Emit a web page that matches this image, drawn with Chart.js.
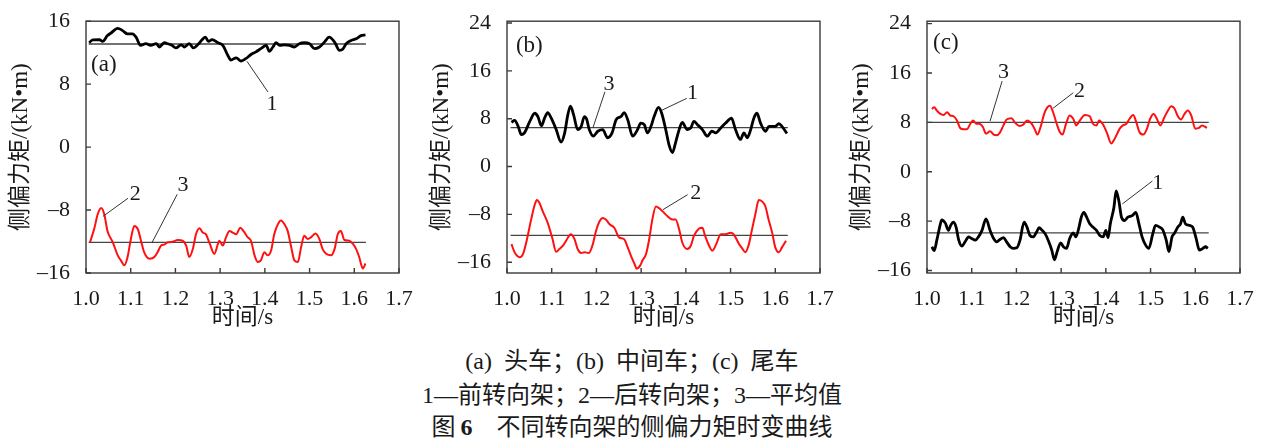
<!DOCTYPE html>
<html>
<head>
<meta charset="utf-8">
<script src="https://cdn.jsdelivr.net/npm/chart.js@4.4.0/dist/chart.umd.min.js"></script>
<style>
body { margin:0; background:#fff; width:1264px; height:445px; overflow:hidden; position:relative;
       font-family:"Liberation Serif","Noto Sans CJK SC",serif; color:#1a1a1a; }
.panel { position:absolute; top:0; width:420px; height:340px; }
.cap { position:absolute; left:0; width:1264px; text-align:center; font-size:24px; line-height:28px; }
</style>
</head>
<body>
<div class="panel" style="left:0"><canvas id="chartA"></canvas></div>
<div class="panel" style="left:421px"><canvas id="chartB"></canvas></div>
<div class="panel" style="left:841px"><canvas id="chartC"></canvas></div>
<div class="cap" style="top:347px">(a)&nbsp; 头车；(b)&nbsp; 中间车；(c)&nbsp; 尾车</div>
<div class="cap" style="top:381px">1—前转向架；2—后转向架；3—平均值</div>
<div class="cap" style="top:413px">图&thinsp;<b>6</b>&emsp;不同转向架的侧偏力矩时变曲线</div>
<script>
/* axis ticks */
const xTicks = [1.0, 1.1, 1.2, 1.3, 1.4, 1.5, 1.6, 1.7];
const yTicksA = [-16, -8, 0, 8, 16];
const yTicksBC = [-16, -8, 0, 8, 16, 24];

/* (a) 头车 - 1 front bogie */
const aFrontT = [1.007,1.015,1.030,1.037,1.048,1.056,1.071,1.082,1.093,1.104,
  1.112,1.122,1.134,1.145,1.157,1.164,1.175,1.183,1.192,1.201,
  1.213,1.220,1.231,1.240,1.254,1.260,1.267,1.274,1.282,1.295,
  1.306,1.317,1.324,1.336,1.347,1.358,1.369,1.380,1.391,1.403,
  1.410,1.418,1.425,1.433,1.444,1.455,1.466,1.477,1.488,1.500,
  1.511,1.522,1.533,1.544,1.556,1.567,1.574,1.582,1.593,1.604,
  1.615,1.625];
const aFrontM = [13.26,13.63,13.67,13.43,14.17,14.5,15.09,14.80,14.38,14.38,
  13.97,12.93,13.14,12.93,13.14,12.72,13.26,13.14,12.93,12.60,
  13.0,12.72,13.14,12.60,13.26,13.67,13.97,13.43,13.67,13.26,
  12.93,11.68,11.06,11.35,10.94,11.27,11.77,12.10,12.51,12.93,
  12.18,12.72,13.26,12.93,13.0,12.93,12.72,13.14,13.26,13.14,
  12.51,12.72,13.34,13.97,13.34,12.30,12.43,13.14,13.55,13.76,
  14.17,14.26];
/* (a) 2 rear bogie */
const aRearT = [1.009,1.019,1.026,1.034,1.041,1.048,1.060,1.071,1.078,1.086,
  1.093,1.101,1.108,1.116,1.123,1.130,1.142,1.153,1.160,1.168,
  1.175,1.183,1.194,1.205,1.216,1.224,1.231,1.239,1.246,1.254,
  1.261,1.268,1.277,1.287,1.295,1.298,1.306,1.313,1.321,1.328,
  1.336,1.345,1.352,1.362,1.369,1.377,1.384,1.391,1.399,1.406,
  1.414,1.421,1.429,1.436,1.444,1.451,1.459,1.466,1.474,1.481,
  1.488,1.496,1.503,1.513,1.522,1.529,1.537,1.548,1.556,1.563,
  1.570,1.578,1.589,1.597,1.604,1.611,1.619,1.625];
const aRearM = [-12.10,-10.24,-8.57,-7.74,-8.57,-10.65,-12.10,-13.76,-14.39,-15.01,
  -13.97,-11.48,-10.03,-10.44,-11.90,-13.35,-14.18,-13.97,-13.35,-12.52,
  -12.39,-12.10,-12.02,-11.81,-11.90,-12.52,-13.97,-12.93,-11.07,-10.32,
  -10.86,-11.07,-12.31,-13.56,-12.31,-11.90,-12.52,-11.48,-10.65,-10.86,
  -11.07,-10.24,-10.65,-11.48,-11.90,-13.76,-14.59,-14.39,-13.35,-13.76,
  -13.14,-11.07,-9.82,-9.32,-9.82,-10.65,-12.73,-14.39,-14.59,-12.73,
  -11.27,-11.69,-11.48,-10.98,-11.69,-12.93,-13.56,-13.76,-12.93,-11.07,
  -10.65,-11.81,-11.90,-12.31,-12.93,-13.97,-15.42,-14.80];

/* (b) 中间车 - 1 front bogie */
const bFrontT = [1.010,1.017,1.025,1.032,1.039,1.051,1.062,1.069,1.077,1.084,
  1.091,1.099,1.110,1.121,1.129,1.136,1.142,1.149,1.158,1.166,
  1.173,1.178,1.184,1.193,1.203,1.214,1.225,1.235,1.244,1.255,
  1.262,1.270,1.281,1.292,1.299,1.307,1.314,1.322,1.329,1.339,
  1.346,1.355,1.363,1.370,1.377,1.385,1.392,1.403,1.411,1.418,
  1.426,1.437,1.448,1.458,1.467,1.478,1.489,1.502,1.511,1.522,
  1.530,1.537,1.545,1.552,1.559,1.567,1.578,1.586,1.600,1.608,
  1.615,1.626];
const bFrontM = [7.38,7.71,6.72,5.35,5.63,7.54,8.91,8.36,6.83,8.09,
  9.02,8.09,6.18,4.10,5.63,8.64,10.11,8.64,6.18,6.72,
  8.36,7.93,6.18,5.08,5.90,6.18,4.81,5.63,7.82,8.36,
  9.02,7.82,5.08,6.18,7.27,7.00,5.63,6.72,8.36,9.89,
  8.91,6.18,3.44,2.35,3.99,6.18,7.38,6.18,6.45,7.54,
  7.00,6.18,5.08,5.90,5.63,6.45,7.27,8.09,6.18,4.53,
  5.63,4.81,6.18,8.09,8.91,7.27,5.90,6.72,6.72,7.16,
  6.72,5.52];
/* (b) 2 rear bogie */
const bRearT = [1.010,1.017,1.028,1.036,1.043,1.054,1.062,1.067,1.073,1.080,
  1.091,1.101,1.110,1.117,1.125,1.132,1.143,1.151,1.158,1.166,
  1.173,1.183,1.192,1.199,1.207,1.214,1.221,1.230,1.240,1.251,
  1.262,1.270,1.277,1.285,1.290,1.298,1.303,1.311,1.318,1.325,
  1.333,1.340,1.348,1.359,1.370,1.377,1.385,1.392,1.403,1.411,
  1.418,1.429,1.437,1.443,1.452,1.459,1.468,1.478,1.489,1.500,
  1.507,1.519,1.527,1.533,1.541,1.548,1.556,1.563,1.571,1.578,
  1.585,1.593,1.600,1.608,1.615,1.624];
const bRearM = [-12.97,-14.34,-15.16,-14.61,-12.70,-8.87,-6.40,-5.58,-6.13,-7.50,
  -9.41,-11.88,-14.23,-13.79,-13.24,-12.42,-11.33,-12.15,-13.79,-14.45,
  -14.34,-14.45,-12.97,-10.78,-9.14,-8.59,-8.87,-9.69,-10.23,-11.88,
  -12.15,-13.52,-14.88,-16.25,-17.07,-16.52,-15.70,-14.61,-12.15,-8.87,
  -6.68,-6.95,-7.50,-8.32,-8.87,-8.87,-10.51,-12.70,-13.79,-13.24,
  -11.60,-10.40,-10.23,-11.60,-13.24,-14.06,-12.97,-11.33,-11.33,-11.05,
  -11.33,-12.97,-13.79,-14.34,-12.97,-10.51,-7.77,-5.58,-5.86,-6.68,
  -8.87,-11.05,-13.52,-14.34,-13.52,-12.42];

/* (c) 尾车 - 1 front bogie */
const cFrontT = [1.011,1.016,1.022,1.030,1.033,1.041,1.048,1.053,1.059,1.065,
  1.071,1.078,1.085,1.093,1.100,1.108,1.115,1.123,1.132,1.141,
  1.149,1.156,1.163,1.171,1.178,1.186,1.193,1.201,1.208,1.217,
  1.223,1.230,1.238,1.245,1.251,1.256,1.264,1.271,1.279,1.285,
  1.291,1.299,1.305,1.312,1.319,1.327,1.333,1.340,1.345,1.351,
  1.357,1.364,1.371,1.379,1.386,1.394,1.400,1.405,1.410,1.418,
  1.423,1.429,1.435,1.442,1.449,1.459,1.467,1.474,1.481,1.489,
  1.496,1.505,1.511,1.520,1.527,1.535,1.541,1.548,1.553,1.561,
  1.567,1.572,1.578,1.587,1.594,1.602,1.609,1.617,1.623,1.628];
const cFrontM = [-12.15,-12.79,-11.08,-8.43,-7.79,-8.32,-9.49,-8.69,-8.16,-8.96,
  -11.08,-12.04,-11.35,-10.55,-10.82,-11.08,-10.55,-9.49,-7.63,-9.49,
  -10.82,-11.35,-10.98,-10.66,-11.35,-12.15,-12.41,-12.31,-11.08,-8.16,
  -8.85,-10.29,-10.55,-9.76,-9.06,-9.38,-10.02,-11.08,-12.68,-14.27,
  -12.95,-11.51,-12.15,-12.41,-10.82,-9.92,-10.55,-8.96,-7.36,-6.57,
  -7.36,-8.43,-8.96,-9.49,-10.29,-10.55,-9.49,-10.66,-8.43,-5.77,
  -3.11,-4.70,-7.36,-7.89,-7.36,-7.10,-6.57,-8.43,-10.55,-11.88,
  -12.41,-10.02,-8.69,-8.96,-9.38,-11.08,-12.95,-10.55,-10.02,-8.96,
  -8.43,-7.36,-8.43,-8.69,-8.96,-10.82,-12.68,-12.41,-12.15,-12.41];
/* (c) 2 rear bogie */
const cRearT = [1.011,1.016,1.022,1.030,1.037,1.045,1.052,1.059,1.067,1.074,
  1.082,1.089,1.097,1.103,1.110,1.117,1.125,1.132,1.141,1.149,
  1.156,1.163,1.171,1.178,1.189,1.197,1.207,1.215,1.224,1.234,
  1.241,1.247,1.254,1.262,1.269,1.275,1.282,1.290,1.297,1.303,
  1.311,1.319,1.327,1.334,1.342,1.353,1.364,1.371,1.379,1.385,
  1.394,1.403,1.412,1.420,1.431,1.438,1.446,1.453,1.461,1.468,
  1.475,1.484,1.492,1.499,1.507,1.514,1.522,1.531,1.539,1.546,
  1.553,1.561,1.568,1.576,1.583,1.591,1.600,1.608,1.615,1.626];
const cRearM = [10.18,10.45,9.92,9.38,9.22,9.65,9.12,9.01,8.32,7.10,
  6.88,6.88,7.79,8.32,7.79,7.79,7.26,6.19,6.57,6.03,
  5.93,6.35,7.52,8.48,8.69,7.95,7.42,7.63,8.32,7.79,
  6.88,6.03,7.26,9.38,10.45,10.71,9.65,7.79,6.46,6.03,
  7.79,9.12,8.59,7.52,8.32,9.22,9.01,7.79,7.52,8.32,
  7.63,6.19,4.60,5.40,6.99,7.52,7.79,8.59,9.22,8.05,
  6.46,6.03,6.99,8.59,9.38,8.59,7.52,8.85,9.92,10.61,
  10.29,9.01,8.48,9.38,9.92,9.12,6.99,7.10,7.52,7.10];

/* 3 mean values [front, rear] and the time span they cover */
const aMean = [13.1, -12.1];
const bMean = [6.5, -11.5];
const cMean = [-9.9, 8.0];
const aSpan = [1.006, 1.626];
const bSpan = [1.008, 1.628];
const cSpan = [1.003, 1.630];

/* number labels: text, curve point, leader end, label centre (data units) */
const aNotes = [['1', [1.360, 10.9], [1.407, 7.0], [1.416, 5.4]],
                ['2', [1.038, -8.8], [1.094, -6.5], [1.110, -6.0]],
                ['3', [1.148, -12.1], [1.204, -6.0], [1.217, -4.9]]];
const bNotes = [['3', [1.192, 6.45], [1.219, 12.5], [1.228, 13.8]],
                ['1', [1.346, 9.4], [1.402, 11.4], [1.415, 12.3]],
                ['2', [1.349, -7.2], [1.404, -4.7], [1.422, -4.5]]];
const cNotes = [['3', [1.141, 8.2], [1.168, 14.7], [1.171, 16.1]],
                ['2', [1.282, 10.3], [1.327, 12.8], [1.341, 13.1]],
                ['1', [1.437, -5.2], [1.504, -1.5], [1.516, -1.9]]];

const serif = '"Liberation Serif", "Times New Roman", serif';
Chart.defaults.font.family = '"Liberation Serif", "Noto Sans CJK SC", serif';
Chart.defaults.color = '#1a1a1a';

/* box, inward ticks, panel tag and leader lines */
const frame = {
    id: 'frame',
    afterDraw(chart, args, o) {
        const ctx = chart.ctx, a = chart.chartArea, x = chart.scales.x, y = chart.scales.y;
        ctx.save();
        ctx.strokeStyle = '#3a3a3a';
        ctx.lineWidth = 1.4;
        ctx.strokeRect(a.left, a.top, a.right - a.left, a.bottom - a.top);
        ctx.beginPath();
        x.ticks.forEach(t => {
            const px = x.getPixelForValue(t.value);
            ctx.moveTo(px, a.bottom); ctx.lineTo(px, a.bottom - 5);
        });
        y.ticks.forEach(t => {
            const py = y.getPixelForValue(t.value);
            ctx.moveTo(a.left, py); ctx.lineTo(a.left + 5, py);
        });
        ctx.stroke();

        ctx.fillStyle = '#1a1a1a';
        ctx.font = '23px ' + serif;
        ctx.textAlign = 'center';
        ctx.textBaseline = 'middle';
        ctx.fillText(o.tag, x.getPixelForValue(o.tagAt[0]), y.getPixelForValue(o.tagAt[1]));

        ctx.lineWidth = 1;
        ctx.strokeStyle = '#333';
        ctx.font = '22px ' + serif;
        o.notes.forEach(n => {
            ctx.beginPath();
            ctx.moveTo(x.getPixelForValue(n[1][0]), y.getPixelForValue(n[1][1]));
            ctx.lineTo(x.getPixelForValue(n[2][0]), y.getPixelForValue(n[2][1]));
            ctx.stroke();
            ctx.fillText(n[0], x.getPixelForValue(n[3][0]), y.getPixelForValue(n[3][1]));
        });
        ctx.restore();
    }
};

function series(t, m, color, width) {
    return {
        data: t.map((v, i) => ({x: v, y: m[i]})),
        borderColor: color, borderWidth: width,
        pointRadius: 0, fill: false, cubicInterpolationMode: 'monotone'
    };
}

function meanLine(value, span) {
    return {
        data: [{x: span[0], y: value}, {x: span[1], y: value}],
        borderColor: '#444', borderWidth: 1.3, pointRadius: 0, fill: false
    };
}

function makeChart(id, front, rear, means, span, yMin, yMax, yTicks, tag, tagAt, notes) {
    new Chart(document.getElementById(id), {
        type: 'line',
        data: {
            datasets: [
                series(front[0], front[1], '#000', 2.8),
                series(rear[0], rear[1], '#ff1010', 2),
                meanLine(means[0], span),
                meanLine(means[1], span)
            ]
        },
        options: {
            responsive: true,
            maintainAspectRatio: false,
            animation: false,
            layout: {padding: {top: 16, right: 21, left: 0, bottom: 0}},
            plugins: {
                legend: {display: false},
                tooltip: {enabled: false},
                frame: {tag: tag, tagAt: tagAt, notes: notes}
            },
            scales: {
                x: {
                    type: 'linear', min: 1.0, max: 1.7,
                    afterBuildTicks: s => { s.ticks = xTicks.map(v => ({value: v})); },
                    afterFit: s => { s.height = 67; },
                    grid: {display: false},
                    border: {display: false},
                    ticks: {font: {size: 22, family: serif}, padding: 5, maxRotation: 0, autoSkip: false,
                            callback: v => v.toFixed(1)},
                    title: {display: true, text: '时间/s', font: {size: 23},
                            padding: {top: 0, bottom: 8}}
                },
                y: {
                    type: 'linear', min: yMin, max: yMax,
                    afterBuildTicks: s => { s.ticks = yTicks.map(v => ({value: v})); },
                    afterFit: s => { s.width = 86; },
                    grid: {display: false},
                    border: {display: false},
                    ticks: {font: {size: 22, family: serif}, padding: 8,
                            callback: v => v < 0 ? '\u2013' + (-v) : String(v)},
                    title: {display: true, text: '侧偏力矩/(kN•m)', font: {size: 23},
                            padding: {top: 7, bottom: 0}}
                }
            }
        },
        plugins: [frame]
    });
}

makeChart('chartA', [aFrontT, aFrontM], [aRearT, aRearM], aMean, aSpan,
          -16, 16, yTicksA, '(a)', [1.040, 10.4], aNotes);
makeChart('chartB', [bFrontT, bFrontM], [bRearT, bRearM], bMean, bSpan,
          -17.8, 24.3, yTicksBC, '(b)', [1.050, 20.1], bNotes);
makeChart('chartC', [cFrontT, cFrontM], [cRearT, cRearM], cMean, cSpan,
          -16.4, 24.4, yTicksBC, '(c)', [1.042, 20.8], cNotes);
</script>
</body>
</html>
